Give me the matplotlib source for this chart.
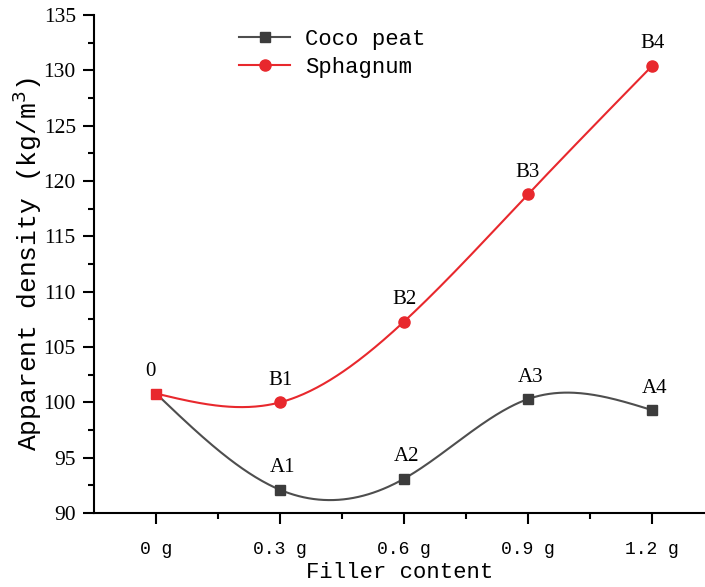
import numpy as np
import matplotlib.pyplot as plt

# data
filler = [0.0, 0.3, 0.6, 0.9, 1.2]
tick_labels = ["0 g", "0.3 g", "0.6 g", "0.9 g", "1.2 g"]
coco = [100.8, 92.1, 93.1, 100.3, 99.3]
sphag = [100.8, 100.0, 107.3, 118.8, 130.4]
coco_tags = ["", "A1", "A2", "A3", "A4"]
sphag_tags = ["0", "B1", "B2", "B3", "B4"]


# natural cubic spline (no scipy available)
def spline(x, y, xs):
    x = np.asarray(x, float)
    y = np.asarray(y, float)
    n = len(x)
    h = np.diff(x)
    A = np.zeros((n, n))
    b = np.zeros(n)
    A[0, 0] = A[-1, -1] = 1
    for i in range(1, n - 1):
        A[i, i - 1] = h[i - 1]
        A[i, i] = 2 * (h[i - 1] + h[i])
        A[i, i + 1] = h[i]
        b[i] = 6 * ((y[i + 1] - y[i]) / h[i] - (y[i] - y[i - 1]) / h[i - 1])
    M = np.linalg.solve(A, b)
    idx = np.clip(np.searchsorted(x, xs) - 1, 0, n - 2)
    x0, x1 = x[idx], x[idx + 1]
    hh = x1 - x0
    t0 = x1 - xs
    t1 = xs - x0
    return (M[idx] * t0 ** 3 / (6 * hh) + M[idx + 1] * t1 ** 3 / (6 * hh)
            + (y[idx] / hh - M[idx] * hh / 6) * t0
            + (y[idx + 1] / hh - M[idx + 1] * hh / 6) * t1)


serif = "Liberation Serif"
mono = "Liberation Mono"
gray = "#4e4e4e"
red = "#e8282d"

fig = plt.figure(figsize=(7.05, 5.87), dpi=100)
ax = fig.add_axes([0.1333, 0.126, 0.8667, 0.8484])

xs = np.linspace(0, 1.2, 300)
ax.plot(xs, spline(filler, coco, xs), color=gray, lw=1.5)
ax.plot(xs, spline(filler, sphag, xs), color=red, lw=1.5)
ax.plot(filler[1:], coco[1:], "s", color="#3c3c3c", ms=7)
ax.plot(filler[1:], sphag[1:], "o", color=red, ms=8)
# shared starting point is drawn as a red square
ax.plot(filler[:1], sphag[:1], "s", color=red, ms=7)
# legend proxies
ax.plot([], [], "-s", color=gray, mfc="#3c3c3c", mec="#3c3c3c", ms=7, lw=1.5, label="Coco peat")
ax.plot([], [], "-o", color=red, ms=8, lw=1.5, label="Sphagnum")

for x, y, t in zip(filler, coco, coco_tags):
    if t:
        ax.annotate(t, (x, y), xytext=(2, 9), textcoords="offset points",
                    ha="center", va="bottom", fontsize=15, family=serif)
for x, y, t in zip(filler, sphag, sphag_tags):
    dx = -4 if t == "0" else 0
    ax.annotate(t, (x, y), xytext=(dx, 9), textcoords="offset points",
                ha="center", va="bottom", fontsize=15, family=serif)

ax.set_xlim(-0.15, 1.328)
ax.set_ylim(90, 135)
ax.set_xticks(filler)
ax.set_xticklabels(tick_labels, family=mono, fontsize=13)
ax.set_xticks([0.15, 0.45, 0.75, 1.05], minor=True)
ax.set_yticks(np.arange(90, 136, 5))
ax.set_yticks(np.arange(92.5, 135, 5), minor=True)
for lab in ax.get_yticklabels():
    lab.set_family(serif)
    lab.set_fontsize(15.5)

ax.spines["top"].set_visible(False)
ax.spines["right"].set_visible(False)
for s in ["left", "bottom"]:
    ax.spines[s].set_linewidth(1.5)
ax.tick_params(which="major", length=8, width=1.5, direction="out", pad=5)
ax.tick_params(which="minor", length=4, width=1.5, direction="out")
ax.tick_params(axis="x", which="major", pad=12)

ax.set_xlabel("Filler content", family=mono, fontsize=16, labelpad=3)
ax.set_ylabel("Apparent density (kg/m$^3$)", family=mono, fontsize=19, labelpad=0)

ax.legend(loc="upper left", bbox_to_anchor=(0.205, 1.012), frameon=False,
          prop={"family": mono, "size": 16}, handlelength=2.3,
          handletextpad=0.65, labelspacing=0.3)

fig.savefig("out.png", dpi=100)
